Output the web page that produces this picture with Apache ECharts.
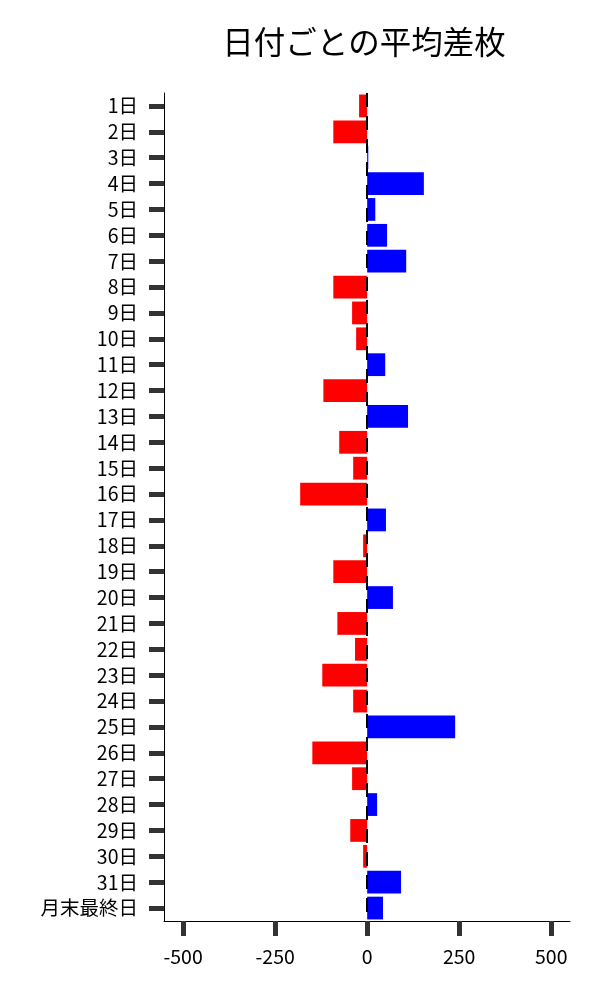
<!DOCTYPE html>
<html>
<head>
<meta charset="utf-8">
<script src="https://cdn.jsdelivr.net/npm/echarts@6/dist/echarts.min.js"></script>
<style>
html,body{margin:0;padding:0;background:#fff;}
#chart{width:600px;height:1000px;}
</style>
</head>
<body>
<div id="chart"></div>
<script>
const categories = ['1日','2日','3日','4日','5日','6日','7日','8日','9日','10日','11日','12日','13日','14日','15日','16日','17日','18日','19日','20日','21日','22日','23日','24日','25日','26日','27日','28日','29日','30日','31日','月末最終日'];
const avgDiff = [-22,-92,3,154,22,54,106,-92,-41,-30,49,-119,111,-76,-38,-182,51,-11,-92,70,-81,-33,-122,-38,239,-149,-41,27,-46,-11,92,43];
const xTicks = [-500,-250,0,250,500];
const titleText = '日付ごとの平均差枚';

const font = '"Noto Sans CJK JP","Noto Sans",sans-serif';
const chart = echarts.init(document.getElementById('chart'), null, {renderer:'canvas'});
chart.setOption({
  animation:false,
  backgroundColor:'#fff',
  title:{
    text:titleText,
    left:359, top:21, textAlign:'center',
    textStyle:{fontFamily:font,fontSize:31.5,fontWeight:'normal',color:'#000'}
  },
  grid:{left:164,right:30,top:93,bottom:79,containLabel:false},
  xAxis:{
    type:'value', min:-552, max:551,
    splitLine:{show:false},
    axisLine:{show:true,onZero:false,lineStyle:{color:'#000',width:1}},
    axisTick:{show:true,length:15,lineStyle:{color:'#333',width:5},customValues:xTicks},
    axisLabel:{customValues:xTicks,fontFamily:font,fontSize:19.5,color:'#000',margin:26}
  },
  yAxis:{
    type:'category', data:categories, inverse:true,
    axisLine:{show:true,onZero:false,lineStyle:{color:'#000',width:1}},
    axisTick:{show:true,alignWithLabel:true,length:15,lineStyle:{color:'#333',width:5}},
    axisLabel:{fontFamily:font,fontSize:19.5,color:'#000',margin:26,interval:0}
  },
  series:[{
    type:'bar',
    data:avgDiff.map(v=>({value:v,itemStyle:{color:v<0?'#ff0000':'#0000ff'}})),
    barCategoryGap:'12%',
    markLine:{
      silent:true, symbol:['none','none'],
      label:{show:false},
      lineStyle:{color:'#000',width:2,type:[14,9]},
      data:[{xAxis:0}]
    }
  }]
});
</script>
</body>
</html>
